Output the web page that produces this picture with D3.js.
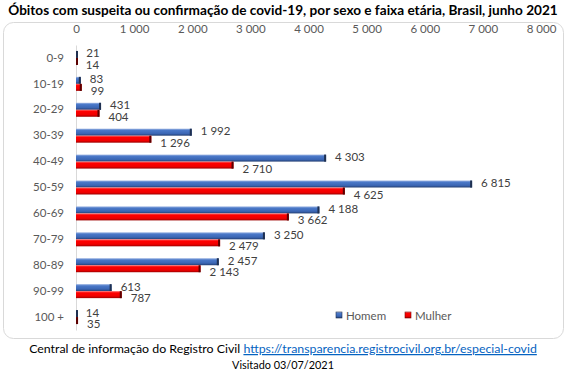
<!DOCTYPE html>
<html><head><meta charset="utf-8">
<script src="https://cdn.jsdelivr.net/npm/d3@7"></script>
<style>body{margin:0;background:#fff}svg{display:block}</style>
</head><body>
<svg id="c" width="567" height="372"></svg>
<script>
const categories = ["0-9","10-19","20-29","30-39","40-49","50-59","60-69","70-79","80-89","90-99","100 +"];
const homem = [21,83,431,1992,4303,6815,4188,3250,2457,613,14];
const mulher = [14,99,404,1296,2710,4625,3662,2479,2143,787,35];
const ticks = [0,1000,2000,3000,4000,5000,6000,7000,8000];
const seriesNames = ["Homem","Mulher"];
const titleText = "Óbitos com suspeita ou confirmação de covid-19, por sexo e faixa etária, Brasil, junho 2021";
const sourceText = "Central de informação do Registro Civil ";
const sourceLink = "https://transparencia.registrocivil.org.br/especial-covid";
const visitedText = "Visitado 03/07/2021";

const font = "Lato, 'Open Sans', sans-serif";
const svg = d3.select("#c");
const fmt = v => d3.format(",")(v).replace(/,/g, " ");

const defs = svg.append("defs");
function grad(id, stops){
  const g = defs.append("linearGradient").attr("id", id).attr("x1",0).attr("y1",0).attr("x2",0).attr("y2",1);
  stops.forEach(s => g.append("stop").attr("offset", s[0]).attr("stop-color", s[1]));
}
grad("gb", [[0,"#9DB5E3"],[0.25,"#4A78C8"],[0.7,"#3B66B4"],[1,"#233F73"]]);
grad("gr", [[0,"#FF6A6A"],[0.25,"#FF0000"],[0.7,"#F00000"],[1,"#9E0000"]]);

// title
const title = svg.append("text").attr("x", 283).attr("y", 15).attr("text-anchor","middle")
  .attr("font-family", font).attr("font-weight","bold").attr("font-size", 14).attr("fill","#000").text(titleText);
const tw = title.node().getComputedTextLength();
title.attr("font-size", 14 * 550 / tw);

// frame
svg.append("rect").attr("x",3.5).attr("y",22.5).attr("width",560).attr("height",316).attr("rx",10)
  .attr("fill","#fff").attr("stroke","#D9D9D9");

const x = d3.scaleLinear().domain([0,8000]).range([76,541]);
const y = d3.scaleBand().domain(categories).range([45,330]);

// top axis
const ax = svg.append("g").attr("transform","translate(0,36)")
  .call(d3.axisTop(x).tickValues(ticks).tickSize(0).tickFormat(fmt));
ax.select(".domain").remove();
ax.selectAll("text").attr("font-family", font).attr("font-size", 11.5).attr("fill","#595959").attr("dy","0");

// left axis
const ay = svg.append("g").attr("transform","translate(76,0)")
  .call(d3.axisLeft(y).tickSize(0).tickPadding(12));
ay.select(".domain").attr("stroke","#D9D9D9");
ay.selectAll("text").attr("font-family", font).attr("font-size", 11.5).attr("fill","#595959");

const bh = 7;
const rows = categories.map((c,i)=>({c, h: homem[i], m: mulher[i]}));
const g = svg.append("g");
function bars(key, fill, off, cap){
  g.selectAll(null).data(rows).join("rect")
    .attr("x", x(0)).attr("y", d => y(d.c) + y.bandwidth()/2 + off)
    .attr("width", d => Math.max(1, x(d[key]) - x(0))).attr("height", bh)
    .attr("fill", fill);
  g.selectAll(null).data(rows).join("rect")
    .attr("x", d => Math.max(x(0), x(d[key]) - 2)).attr("y", d => y(d.c) + y.bandwidth()/2 + off)
    .attr("width", 2).attr("height", bh).attr("fill", cap);
}
bars("h", "url(#gb)", -bh, "#1F3050");
bars("m", "url(#gr)", 0, "#5A0000");

function labels(key, dy){
  g.selectAll(null).data(rows).join("text")
    .attr("x", d => x(d[key]) + 9).attr("y", d => y(d.c) + y.bandwidth()/2 + dy)
    .attr("dominant-baseline","central")
    .attr("font-family", font).attr("font-size", 11.5).attr("fill","#404040")
    .text(d => fmt(d[key]));
}
labels("h", -5);
labels("m", 6.5);

// legend
const lg = svg.append("g").attr("transform","translate(336,315)");
const lx = [0, 69];
seriesNames.forEach((n,i)=>{
  lg.append("rect").attr("x", lx[i]).attr("y",-3).attr("width",6).attr("height",6)
    .attr("fill", i ? "url(#gr)" : "url(#gb)").attr("stroke", i ? "#7A0000" : "#1F3050").attr("stroke-width",0.6);
  lg.append("text").attr("x", lx[i]+10).attr("y",0).attr("dominant-baseline","central")
    .attr("font-family", font).attr("font-size", 11.5).attr("fill","#595959").text(n);
});

// footer
const f1 = svg.append("text").attr("x",283).attr("y",353).attr("text-anchor","middle")
  .attr("font-family", font).attr("font-size",13).attr("fill","#000");
f1.append("tspan").text(sourceText);
f1.append("tspan").attr("fill","#0563C1").attr("text-decoration","underline").text(sourceLink);
const fw = f1.node().getComputedTextLength();
f1.attr("font-size", 13 * 508 / fw);
const f2 = svg.append("text").attr("x",283).attr("y",369).attr("text-anchor","middle")
  .attr("font-family", font).attr("font-size",13).attr("fill","#000").text(visitedText);
f2.attr("font-size", 13 * 102 / f2.node().getComputedTextLength());
</script>
</body></html>
